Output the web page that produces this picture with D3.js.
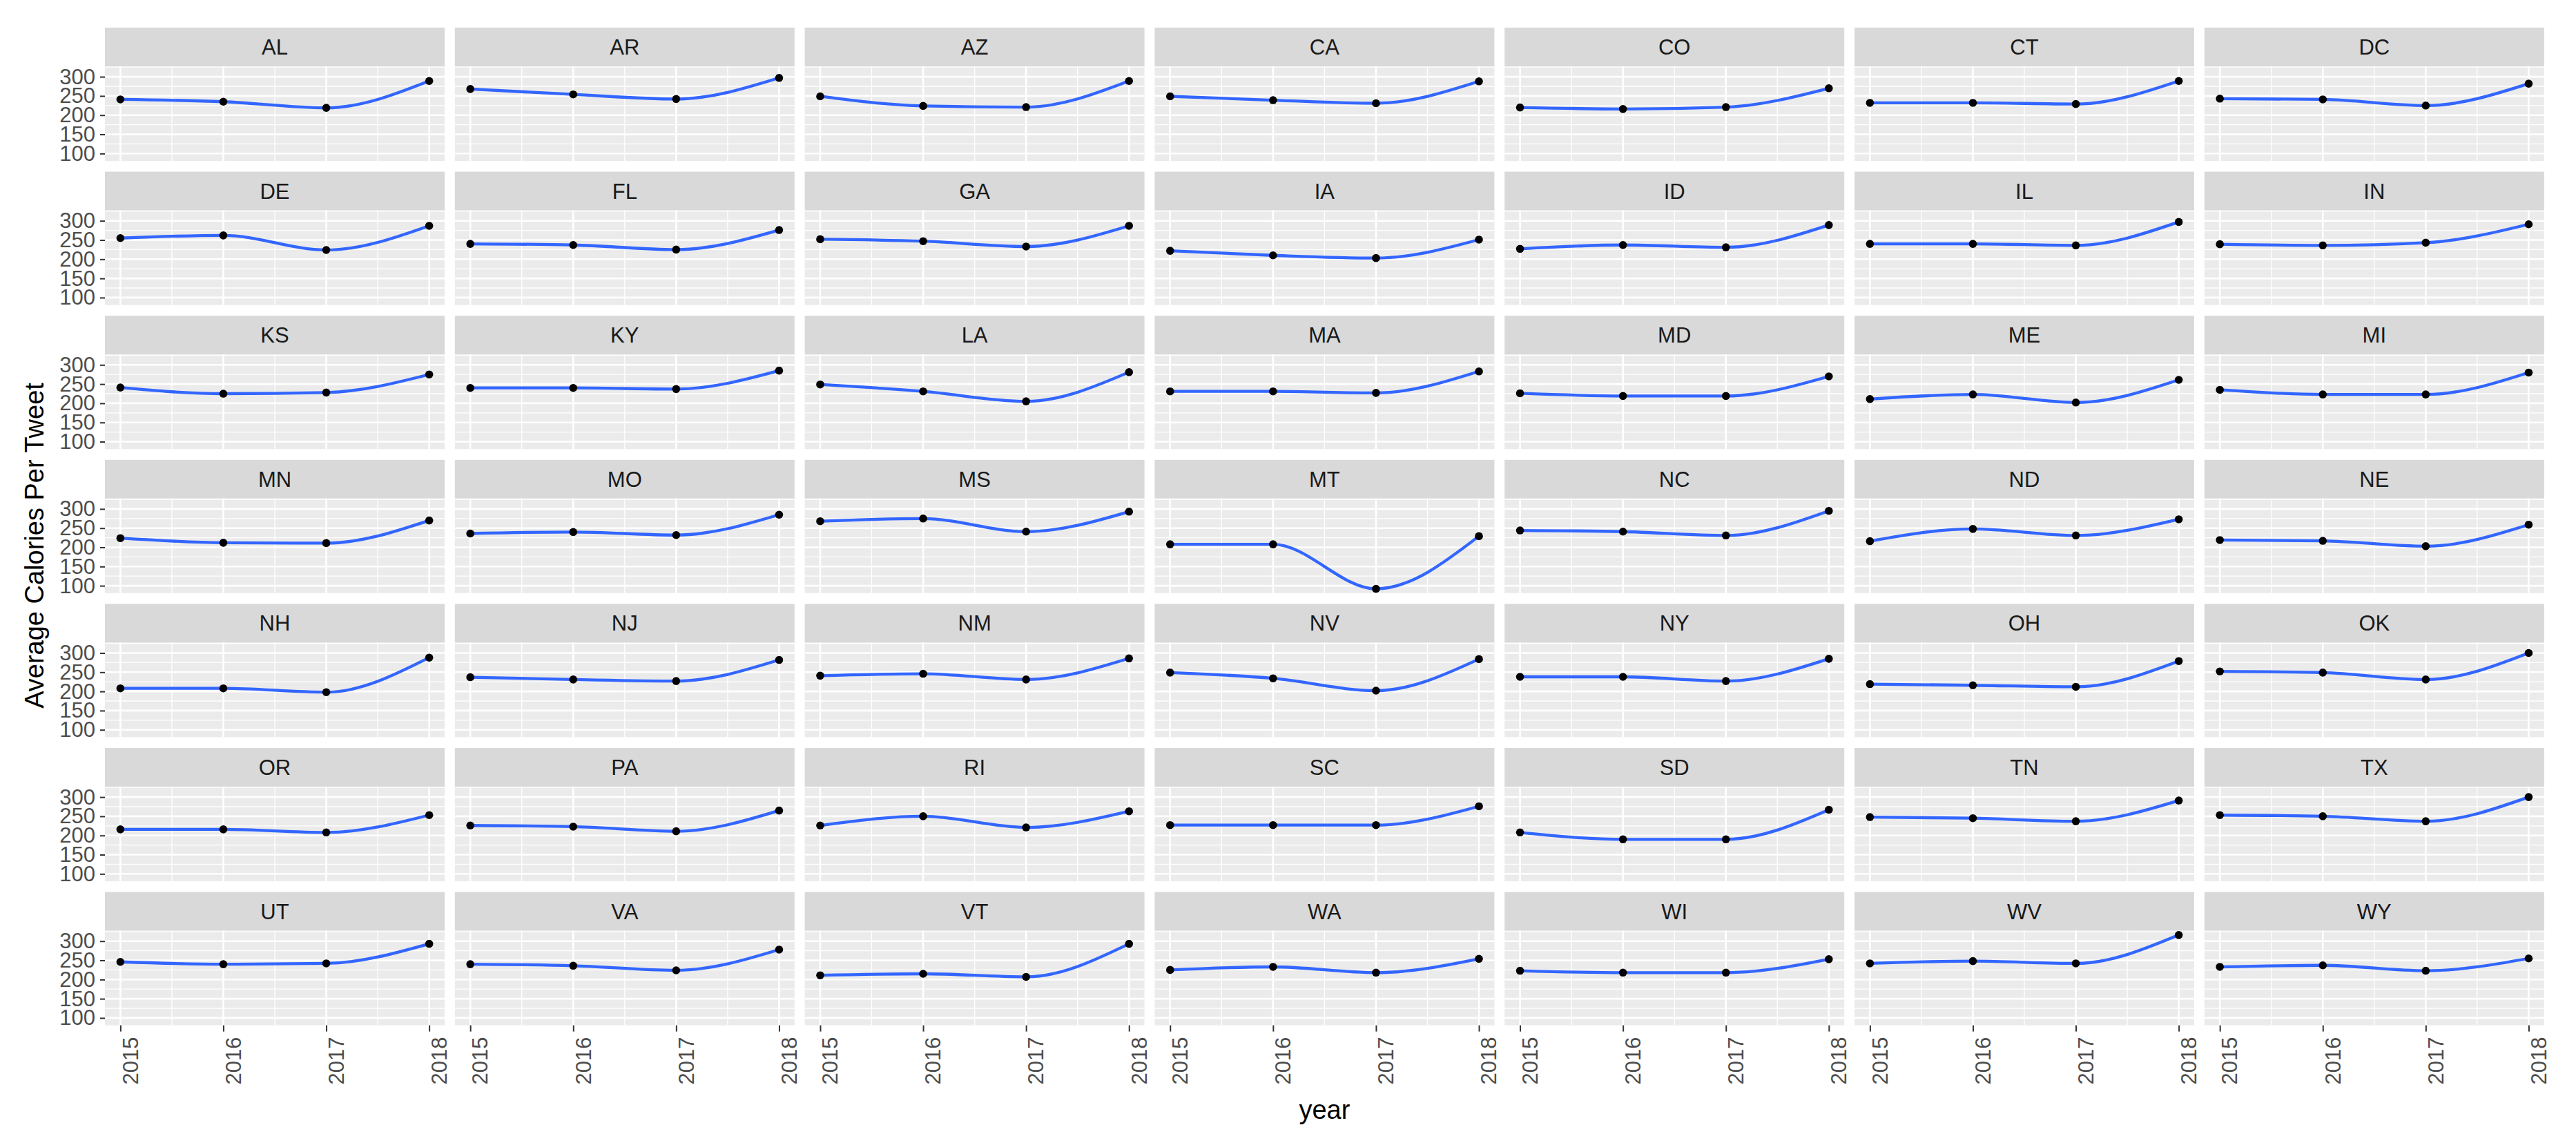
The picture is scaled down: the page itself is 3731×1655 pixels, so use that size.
<!DOCTYPE html>
<html lang="en">
<head>
    <meta charset="UTF-8">
    <title>Average Calories Per Tweet by State</title>
    <script src="https://d3js.org/d3.v7.min.js"></script>
    <style>
        body { margin: 0; background: #fff; font-family: 'Liberation Sans', Arial, sans-serif; }
        svg { display: block; }
    </style>
</head>
<body>
    <div id="chart"></div>

    <script>
        // Data
        const states = [
            'AL', 'AR', 'AZ', 'CA', 'CO', 'CT', 'DC',
            'DE', 'FL', 'GA', 'IA', 'ID', 'IL', 'IN',
            'KS', 'KY', 'LA', 'MA', 'MD', 'ME', 'MI',
            'MN', 'MO', 'MS', 'MT', 'NC', 'ND', 'NE',
            'NH', 'NJ', 'NM', 'NV', 'NY', 'OH', 'OK',
            'OR', 'PA', 'RI', 'SC', 'SD', 'TN', 'TX',
            'UT', 'VA', 'VT', 'WA', 'WI', 'WV', 'WY'
        ];
        const years = [2015, 2016, 2017, 2018];
        // one row per state, same order as states, values for 2015..2018
        const calories = [
            [241, 235, 219, 289], [268, 254, 242, 297], [249, 224, 221, 289], [249, 239, 231, 288],
            [220, 216, 221, 270], [232, 232, 229, 289], [243, 241, 225, 282],
            [255, 262, 224, 287], [240, 237, 225, 276], [252, 247, 233, 287], [222, 210, 203, 251],
            [227, 237, 231, 289], [240, 240, 236, 297], [239, 236, 243, 291],
            [241, 225, 228, 275], [240, 240, 237, 285], [249, 231, 205, 281], [231, 231, 227, 283],
            [226, 219, 219, 270], [211, 223, 202, 261], [235, 223, 223, 280],
            [224, 212, 211, 270], [236, 240, 232, 285], [268, 275, 241, 293], [208, 208, 92, 229],
            [244, 241, 231, 295], [216, 248, 231, 273], [219, 217, 203, 259],
            [208, 208, 198, 288], [237, 231, 227, 282], [241, 246, 231, 286], [249, 234, 202, 284],
            [238, 238, 227, 285], [219, 216, 212, 279], [252, 249, 231, 300],
            [216, 216, 208, 253], [226, 223, 211, 265], [226, 250, 221, 263], [227, 227, 227, 276],
            [208, 190, 190, 267], [248, 245, 237, 291], [253, 250, 237, 300],
            [246, 240, 242, 293], [240, 236, 224, 278], [211, 215, 207, 293], [225, 233, 218, 254],
            [223, 218, 218, 253], [242, 248, 242, 316], [233, 237, 223, 255]
        ];
        const yTicks = [100, 150, 200, 250, 300];
        const yMinor = [125, 175, 225, 275, 325];
        const xMinor = [2015.5, 2016.5, 2017.5];

        // Layout
        const width = 3731, height = 1655;
        const nCol = 7;
        const left0 = 152, colStep = 506.8, panelW = 492;
        const top0 = 40, rowStep = 208.6, stripH = 56, panelH = 137;
        const nRow = Math.ceil(states.length / nCol);
        const font = "'Liberation Sans', Arial, sans-serif";

        const svg = d3.select('#chart').append('svg')
            .attr('width', width)
            .attr('height', height);

        // shared scales with ggplot-style 5% expansion
        const xExt = d3.extent(years);
        const xPad = (xExt[1] - xExt[0]) * 0.05;
        const x = d3.scaleLinear()
            .domain([xExt[0] - xPad, xExt[1] + xPad])
            .range([0, panelW]);

        const allVals = calories.flat();
        const yExt = d3.extent(allVals);
        const yPad = (yExt[1] - yExt[0]) * 0.05;
        const y = d3.scaleLinear()
            .domain([yExt[0] - yPad, yExt[1] + yPad])
            .range([panelH, 0]);

        const line = d3.line()
            .x(d => x(d.year))
            .y(d => y(d.value))
            .curve(d3.curveMonotoneX);

        states.forEach((st, i) => {
            const col = i % nCol;
            const row = Math.floor(i / nCol);
            const g = svg.append('g')
                .attr('transform', `translate(${left0 + col * colStep},${top0 + row * rowStep})`);

            // strip
            g.append('rect')
                .attr('width', panelW)
                .attr('height', stripH)
                .attr('fill', '#D9D9D9');
            g.append('text')
                .attr('x', panelW / 2)
                .attr('y', stripH / 2 + 11)
                .attr('text-anchor', 'middle')
                .attr('font-size', 31)
                .attr('fill', '#1A1A1A')
                .text(st);

            const p = g.append('g').attr('transform', `translate(0,${stripH})`);
            p.append('rect')
                .attr('width', panelW)
                .attr('height', panelH)
                .attr('fill', '#EBEBEB');

            // minor grid
            p.selectAll('.ymin').data(yMinor.filter(v => v <= y.domain()[1] && v >= y.domain()[0]))
                .enter().append('line')
                .attr('x1', 0).attr('x2', panelW)
                .attr('y1', d => y(d)).attr('y2', d => y(d))
                .attr('stroke', '#fff').attr('stroke-width', 1.3);
            p.selectAll('.xmin').data(xMinor)
                .enter().append('line')
                .attr('y1', 0).attr('y2', panelH)
                .attr('x1', d => x(d)).attr('x2', d => x(d))
                .attr('stroke', '#fff').attr('stroke-width', 1.3);
            // major grid
            p.selectAll('.ymaj').data(yTicks)
                .enter().append('line')
                .attr('x1', 0).attr('x2', panelW)
                .attr('y1', d => y(d)).attr('y2', d => y(d))
                .attr('stroke', '#fff').attr('stroke-width', 2.6);
            p.selectAll('.xmaj').data(years)
                .enter().append('line')
                .attr('y1', 0).attr('y2', panelH)
                .attr('x1', d => x(d)).attr('x2', d => x(d))
                .attr('stroke', '#fff').attr('stroke-width', 2.6);

            const pts = years.map((yr, k) => ({ year: yr, value: calories[i][k] }));

            p.append('path')
                .datum(pts)
                .attr('d', line)
                .attr('fill', 'none')
                .attr('stroke', '#3366FF')
                .attr('stroke-width', 4.3);

            p.selectAll('circle').data(pts)
                .enter().append('circle')
                .attr('cx', d => x(d.year))
                .attr('cy', d => y(d.value))
                .attr('r', 5.8)
                .attr('fill', '#000');

            // left axis on first column
            if (col === 0) {
                const ax = p.append('g')
                    .call(d3.axisLeft(y).tickValues(yTicks).tickSize(7).tickPadding(7));
                ax.select('.domain').remove();
                ax.selectAll('line').attr('stroke', '#333333').attr('stroke-width', 2);
                ax.selectAll('text')
                    .attr('fill', '#4D4D4D')
                    .attr('font-size', 31)
                    .attr('font-family', font);
            }

            // bottom axis on last row
            if (row === nRow - 1) {
                const ax = p.append('g')
                    .attr('transform', `translate(0,${panelH})`)
                    .call(d3.axisBottom(x).tickValues(years).tickFormat(d3.format('d')).tickSize(9));
                ax.select('.domain').remove();
                ax.selectAll('line').attr('stroke', '#333333').attr('stroke-width', 2);
                ax.selectAll('text')
                    .attr('fill', '#4D4D4D')
                    .attr('font-size', 31)
                    .attr('font-family', font)
                    .attr('transform', 'rotate(-90)')
                    .attr('text-anchor', 'end')
                    .attr('x', -17)
                    .attr('y', 0)
                    .attr('dy', '0.8em');
            }
        });

        // axis titles
        const plotLeft = left0;
        const plotRight = left0 + (nCol - 1) * colStep + panelW;

        svg.append('text')
            .attr('x', (plotLeft + plotRight) / 2)
            .attr('y', 1620)
            .attr('text-anchor', 'middle')
            .attr('font-size', 38)
            .attr('fill', '#000')
            .text('year');

        svg.append('text')
            .attr('transform', 'translate(63,790) rotate(-90)')
            .attr('text-anchor', 'middle')
            .attr('font-size', 38)
            .attr('fill', '#000')
            .text('Average Calories Per Tweet');
    </script>
</body>
</html>
